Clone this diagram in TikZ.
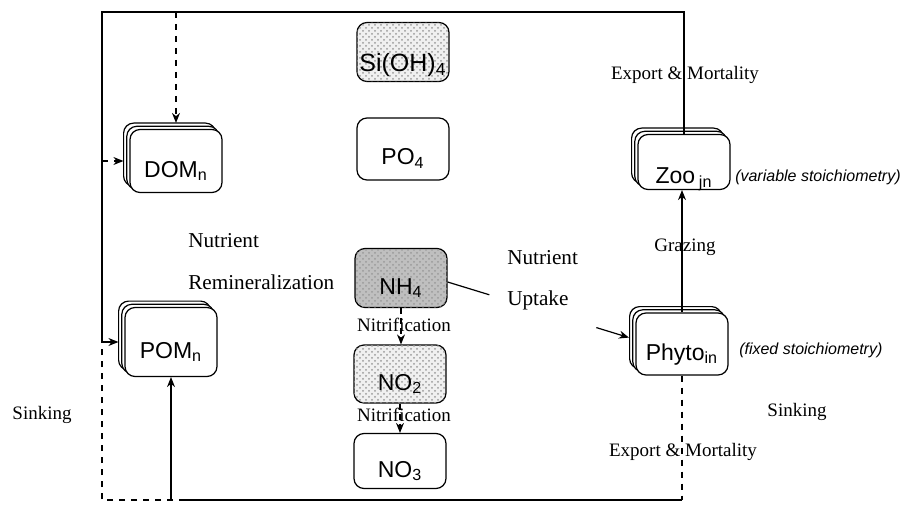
\documentclass[tikz,border=0pt]{standalone}
\usepackage{fontspec}
\setmainfont{Liberation Serif}
\setsansfont{Liberation Sans}
\usetikzlibrary{shadows,calc,arrows.meta,patterns}

\tikzset{
	pool/.style={draw, fill=white, rounded corners=5pt, minimum width=46pt, minimum height=29.5pt, inner ysep=2pt, text height=16pt, text depth=0pt, font=\sffamily\fontsize{11.5}{12}\selectfont},
	grainy/.style={fill=gray!#1, postaction={pattern=crosshatch dots, pattern color=gray!80}},
	stack/.style={pool, double copy shadow={shadow xshift=-1.6pt, shadow yshift=1.6pt}},
	flux/.style={font=\fontsize{9.5}{11}\selectfont},
	big/.style={anchor=west, font=\fontsize{10.6}{12}\selectfont},
	note/.style={anchor=west, font=\sffamily\itshape\fontsize{8}{9}\selectfont}
}

\begin{document}
\begin{tikzpicture}[x=0.5pt, y=-0.5pt, line width=0.6pt, >={Stealth[length=5pt, width=4pt]}]
		\useasboundingbox (0,0) rectangle (906,508);
		\node[pool, grainy=12, text height=20pt, inner xsep=1pt, font=\sffamily\fontsize{12.5}{13}\selectfont] (si) at (403,52) {Si(OH)\textsubscript{4}};
		\node[pool, minimum height=31pt] (po4) at (403,149) {PO\textsubscript{4}};
		\node[pool, grainy=50] (nh4) at (401,278) {NH\textsubscript{4}};
		\node[pool, grainy=12, minimum height=29pt] (no2) at (400,374) {NO\textsubscript{2}};
		\node[pool, minimum height=27.5pt] (no3) at (400,461) {NO\textsubscript{3}};
		\node[stack, minimum height=31.5pt] (dom) at (176,161) {DOM\textsubscript{n}};
		\node[stack, minimum height=34.5pt] (pom) at (171,342) {POM\textsubscript{n}};
		\node[stack, minimum height=27.5pt, text height=22pt] (zoo) at (684,162) {Zoo\,\textsubscript{jn}};
		\node[stack, minimum height=31pt] (phyto) at (682,344) {Phyto\textsubscript{in}};

		\coordinate (tl) at (102,12);
		\coordinate (bl) at (102,500);
		\coordinate (cut) at (185,500);
		\coordinate (up0) at ([yshift=-2pt]nh4.east);
		\coordinate (up1) at ([xshift=-3.2pt, yshift=3.2pt]phyto.west);

		\draw[->] (zoo.north) |- (tl) |- ([xshift=-3pt]pom.west);
		\draw[dashed, ->] (tl |- dom.west) -- ([xshift=-3pt]dom.west);
		\draw[dashed, ->] (dom.north |- tl) -- ([yshift=3pt]dom.north);
		\draw[dashed] (phyto.south) -- (phyto.south |- bl);
		\draw (phyto.south |- bl) -- (cut);
		\draw[dashed] (cut) -- (bl) -- (bl |- pom.west);
		\draw[->] (pom.south |- bl) -- (pom.south);
		\draw[->] (phyto.north) -- (phyto.north |- zoo.south);
		\draw (up0) -- ($(up0)!0.23!(up1)$);
		\draw[->] ($(up0)!0.82!(up1)$) -- (up1);
		\draw[densely dashed, ->] (nh4.south) -- (nh4.south |- no2.north);
		\draw[densely dashed, ->] (no2.south) -- (no2.south |- no3.north);

		\node[flux] (nit1) at (404,325) {Nitrification};
		\node[flux] (nit2) at (404,415) {Nitrification};
		\node[flux] (exp1) at (685,75) {Export \& Mortality};
		\node[flux] (graz) at (685,247) {Grazing};
		\node[flux] (exp2) at (683,452) {Export \& Mortality};
		\node[flux] (sink1) at (42,415) {Sinking};
		\node[flux] (sink2) at (797,412) {Sinking};
		\node[big] (nut1) at (181,241) {Nutrient};
		\node[big] (remin) at (181,282) {Remineralization};
		\node[big] (nut2) at (500,258) {Nutrient};
		\node[big] (upt) at (500,300) {Uptake};
		\node[note] (var) at (728,177) {(variable stoichiometry)};
		\node[note] (fix) at (732,350) {(fixed stoichiometry)};
	\end{tikzpicture}
\end{document}
